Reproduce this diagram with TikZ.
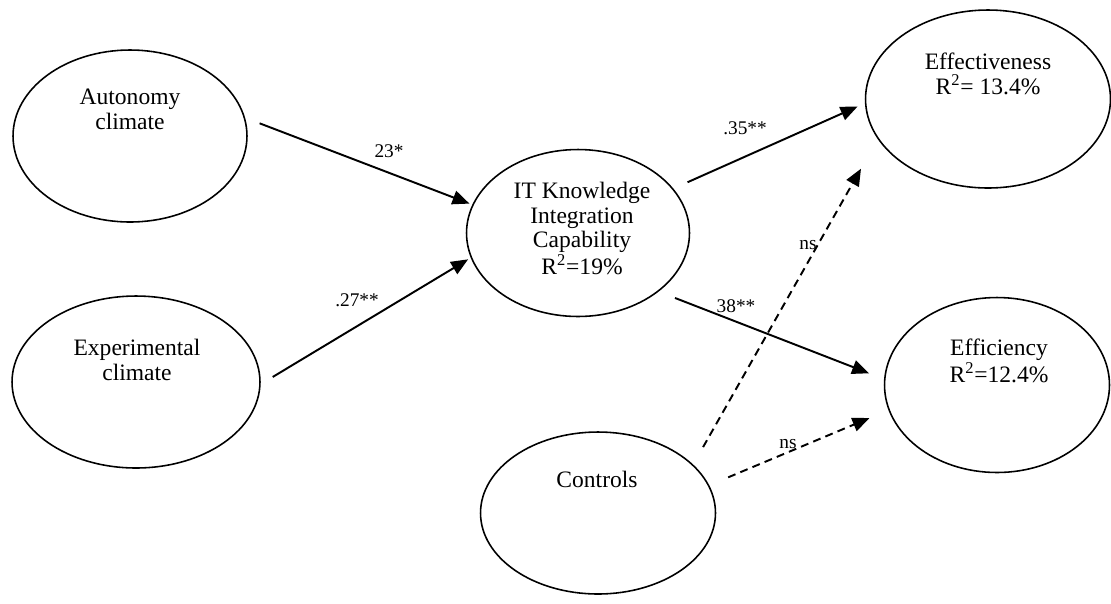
\documentclass[tikz,border=0pt]{standalone}
\usepackage{fontspec}
\setmainfont{Liberation Serif}
\usetikzlibrary{arrows.meta, shapes.geometric}

\tikzset{
  latent/.style={ellipse, draw, line width=.9pt, inner sep=0pt},
  lbl/.style={font=\fontsize{13.4}{14}\selectfont, align=center, inner sep=0pt, anchor=north},
  coef/.style={font=\fontsize{11}{13}\selectfont, inner sep=0pt},
  causal/.style={line width=1.1pt, -{Triangle[length=3.4mm,width=2.8mm]}},
  nsline/.style={causal, dash pattern=on 4.5pt off 3pt},
}

\begin{document}
\begin{tikzpicture}[x=0.02cm,y=-0.02cm]
  \useasboundingbox (0,0) rectangle (1111,603);

    % constructs
  \node[latent, minimum width=4.68cm, minimum height=3.44cm] (auto)   at (130,136) {};
  \node[latent, minimum width=4.96cm, minimum height=3.44cm] (exper)  at (136,382) {};
  \node[latent, minimum width=4.46cm, minimum height=3.34cm] (it)     at (578,233) {};
  \node[latent, minimum width=4.90cm, minimum height=3.56cm] (effect) at (988,99) {};
  \node[latent, minimum width=4.50cm, minimum height=3.50cm] (effic)  at (997,385) {};
  \node[latent, minimum width=4.70cm, minimum height=3.24cm] (ctrl)   at (598,513) {};

    % names inside the ellipses
  \node[lbl] (autoT)   at (130,89)  {Autonomy\\climate};
  \node[lbl] (experT)  at (137,339) {Experimental\\climate};
  \node[lbl] (itT)     at (582,182) {IT Knowledge\\Integration\\Capability\\R\textsuperscript{2}=19\%};
  \node[lbl] (effectT) at (988,53)  {Effectiveness\\R\textsuperscript{2}= 13.4\%};
  \node[lbl] (efficT)  at (999,339) {Efficiency\\R\textsuperscript{2}=12.4\%};
  \node[lbl] (ctrlT)   at (597,471) {Controls};

    % structural paths
  \draw[causal, shorten <=3.1mm, shorten >=.6mm] (auto.9)   -- (it.165);
  \draw[causal, shorten <=2.8mm, shorten >=.6mm] (exper.359) -- (it.193);
  \draw[causal, shorten <=3.1mm, shorten >=1.6mm] (it.25)   -- (effect.182);
  \draw[causal, shorten <=3.5mm, shorten >=3.2mm] (it.324)  -- (effic.177);

    % control paths (dashed)
  \draw[nsline, shorten <=4mm, shorten >=6.8mm] (ctrl.27) -- (effect.200);
  \draw[nsline, shorten <=4.1mm, shorten >=4.1mm] (ctrl.14) -- (effic.193);

    % coefficients
  \node[coef] (c1) at (389,151) {23*};
  \node[coef] (c2) at (357,300) {.27**};
  \node[coef] (c3) at (745,128) {.35**};
  \node[coef] (c4) at (736,306) {38**};
  \node[coef] (c5) at (808,245) {ns};
  \node[coef] (c6) at (788,444) {ns};

\end{tikzpicture}
\end{document}
